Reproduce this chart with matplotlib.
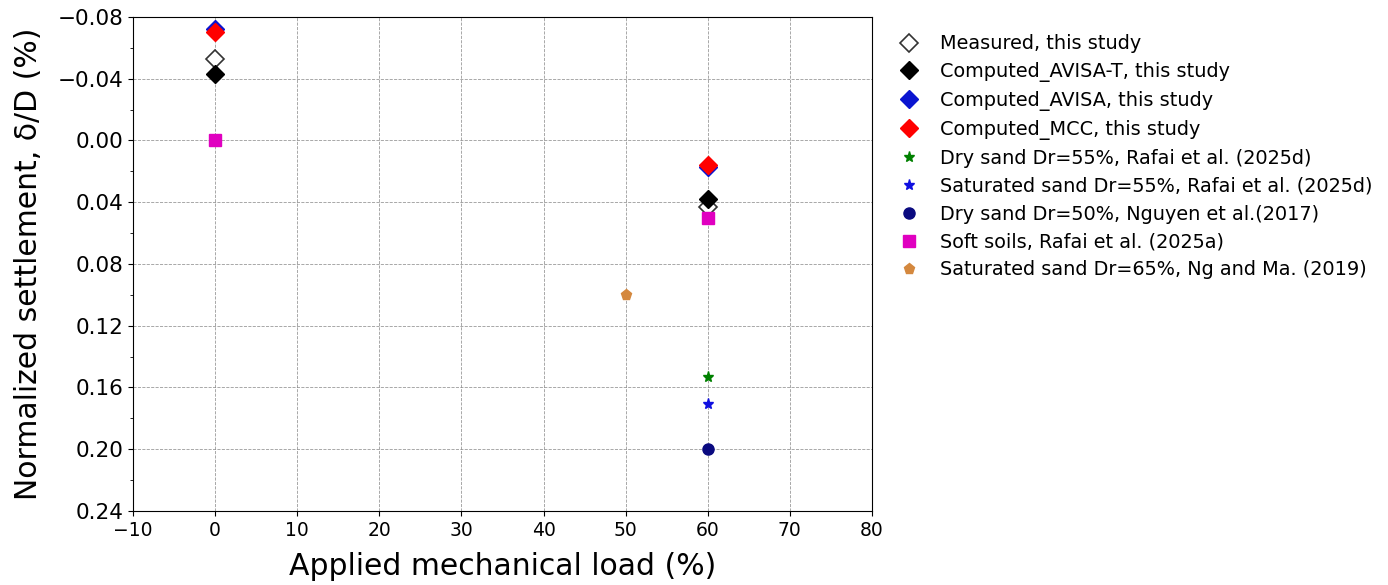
import matplotlib
matplotlib.use("Agg")
import matplotlib.pyplot as plt
from matplotlib.ticker import MultipleLocator

# Data
load_this_study = [0, 60]
measured = [-0.053, 0.043]
avisa_t = [-0.043, 0.038]
avisa = [-0.072, 0.017]
mcc = [-0.070, 0.016]

dry_sand_55_x, dry_sand_55_y = [60], [0.153]
sat_sand_55_x, sat_sand_55_y = [60], [0.171]
dry_sand_50_x, dry_sand_50_y = [60], [0.200]
soft_soils_x, soft_soils_y = [0, 60], [0.000, 0.050]
ng_ma_x, ng_ma_y = [50], [0.100]

fig = plt.figure(figsize=(13.88, 5.85), dpi=100)
ax = fig.add_axes([0.0958, 0.1265, 0.5324, 0.8445])

ax.plot(load_this_study, measured, "D", ms=9, mfc="white", mec="#333333", mew=1.2,
        ls="none", label="Measured, this study", zorder=3)
ax.plot(load_this_study, avisa_t, "D", ms=9, color="black", ls="none",
        label="Computed_AVISA-T, this study", zorder=4)
ax.plot(load_this_study, avisa, "D", ms=9, color="#0a14d0", ls="none",
        label="Computed_AVISA, this study", zorder=3)
ax.plot(load_this_study, mcc, "D", ms=9, color="red", ls="none",
        label="Computed_MCC, this study", zorder=4)
ax.plot(dry_sand_55_x, dry_sand_55_y, "*", ms=8, color="green", ls="none",
        label="Dry sand Dr=55%, Rafai et al. (2025d)", zorder=3)
ax.plot(sat_sand_55_x, sat_sand_55_y, "*", ms=8, color="#1010e0", ls="none",
        label="Saturated sand Dr=55%, Rafai et al. (2025d)", zorder=3)
ax.plot(dry_sand_50_x, dry_sand_50_y, "o", ms=8, color="#0a0a80", ls="none",
        label="Dry sand Dr=50%, Nguyen et al.(2017)", zorder=3)
ax.plot(soft_soils_x, soft_soils_y, "s", ms=9, color="#e000c0", ls="none",
        label="Soft soils, Rafai et al. (2025a)", zorder=3)
ax.plot(ng_ma_x, ng_ma_y, "p", ms=8, color="#d4883e", ls="none",
        label="Saturated sand Dr=65%, Ng and Ma. (2019)", zorder=3)

ax.set_xlim(-10, 80)
ax.set_ylim(0.24, -0.08)
ax.xaxis.set_major_locator(MultipleLocator(10))
ax.yaxis.set_major_locator(MultipleLocator(0.04))
ax.yaxis.set_minor_locator(MultipleLocator(0.02))
ax.tick_params(axis="x", labelsize=13.5)
ax.tick_params(axis="y", labelsize=15.5)
ax.grid(True, which="major", ls="--", color="gray", lw=0.6, alpha=0.8)

ax.set_xlabel("Applied mechanical load (%)", fontsize=21.5, labelpad=9)
ax.set_ylabel("Normalized settlement, δ/D (%)", fontsize=21.5, labelpad=10)

ax.legend(loc="upper left", bbox_to_anchor=(1.0, 1.0), frameon=False,
          fontsize=13.9, handletextpad=0.6, labelspacing=0.46)

fig.savefig("out.png", dpi=100)
